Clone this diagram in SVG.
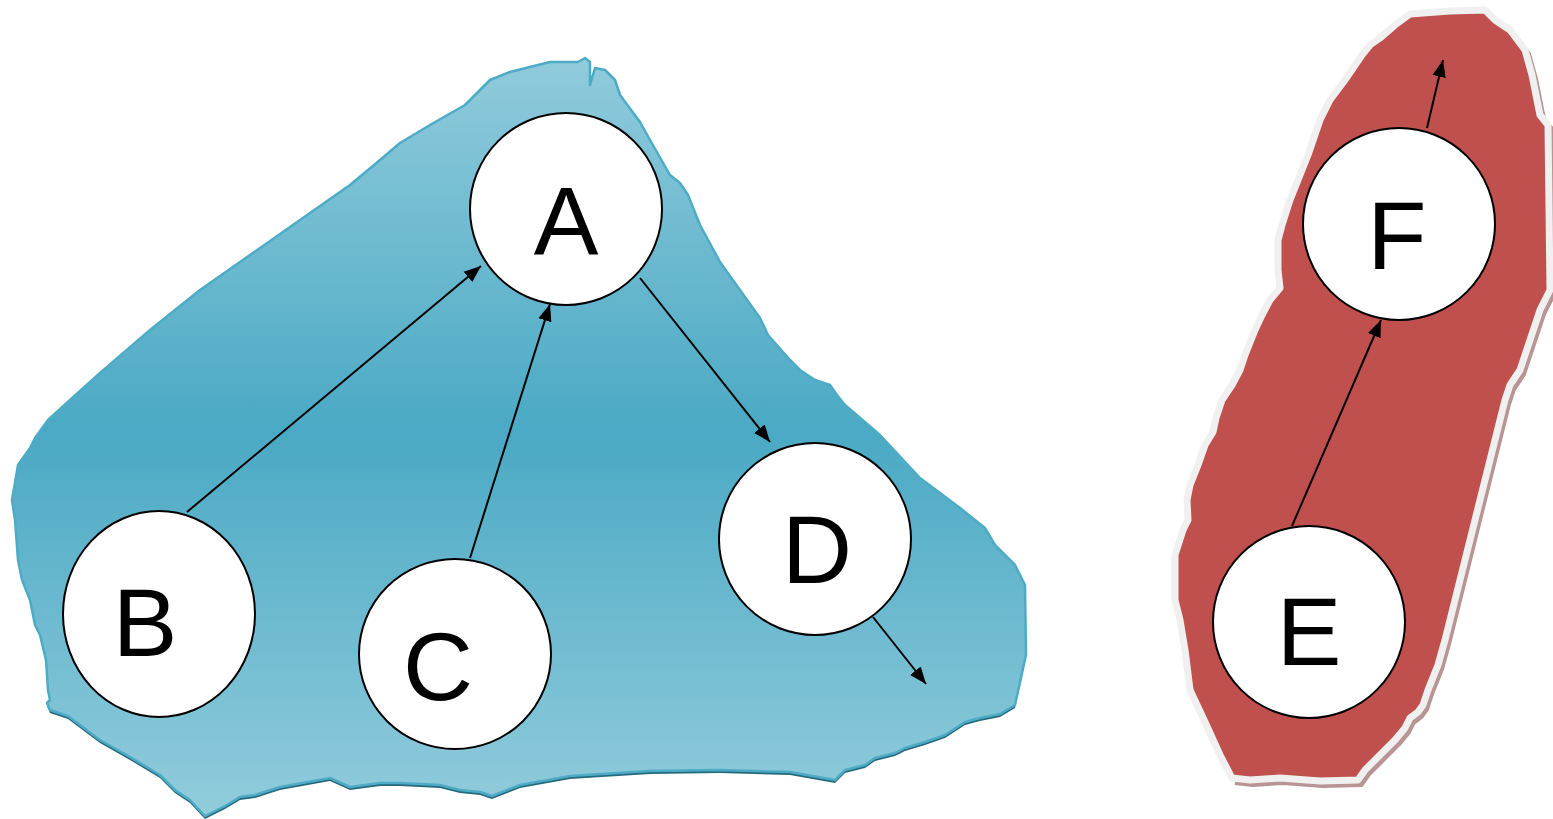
<svg xmlns="http://www.w3.org/2000/svg" width="1553" height="819" viewBox="0 0 1553 819">
  <defs>
    <linearGradient id="blueFill" gradientUnits="userSpaceOnUse" x1="0" y1="50" x2="0" y2="815">
      <stop offset="0" stop-color="#92ccdc"/>
      <stop offset="0.5" stop-color="#4aa9c4"/>
      <stop offset="1" stop-color="#92ccdc"/>
    </linearGradient>
    <marker id="arrow" viewBox="0 0 10 10" refX="10" refY="5" markerWidth="8.5" markerHeight="8.5" markerUnits="strokeWidth" orient="auto">
      <path d="M0,1 L10,5 L0,9 z" fill="#000"/>
    </marker>
  </defs>
  <style>
    .node ellipse { fill: #fff; stroke: #000; stroke-width: 2; }
    .node text { font-family: "Liberation Sans", Arial, sans-serif; font-size: 97px; fill: #000; text-anchor: middle; }
    .edge { fill: none; stroke: #000; stroke-width: 2; marker-end: url(#arrow); }
  </style>

  <!-- blue region -->
  <g id="region-blue">
    <path transform="translate(0,3)" fill="#24697c" d="M465,105 L490,80 L510,72 L550,62 L578,62 L585,58 L590,62 L590,85 L595,68 L605,70 L615,80 L620,95 L640,122 L650,140 L670,175 L680,183 L688,195 L700,225 L720,262 L760,318 L768,335 L790,360 L800,370 L815,380 L830,385 L837,395 L845,405 L880,435 L920,478 L960,508 L985,528 L995,545 L1015,565 L1025,585 L1026,655 L1015,705 L1000,714 L980,718 L965,722 L945,735 L925,742 L905,748 L895,753 L875,758 L865,765 L845,770 L835,780 L790,772 L720,770 L650,771 L570,776 L520,785 L492,796 L480,792 L460,790 L440,785 L400,783 L380,783 L350,787 L330,778 L280,787 L255,795 L240,797 L225,806 L205,816 L190,800 L175,790 L160,775 L130,757 L100,740 L80,725 L68,716 L50,710 L47,703 Z"/>
    <path fill="url(#blueFill)" stroke="#4eabc6" stroke-width="2.5" stroke-linejoin="round" d="M465,105 L490,80 L510,72 L550,62 L578,62 L585,58 L590,62 L590,85 L595,68 L605,70 L615,80 L620,95 L640,122 L650,140 L670,175 L680,183 L688,195 L700,225 L720,262 L760,318 L768,335 L790,360 L800,370 L815,380 L830,385 L837,395 L845,405 L880,435 L920,478 L960,508 L985,528 L995,545 L1015,565 L1025,585 L1026,655 L1015,705 L1000,714 L980,718 L965,722 L945,735 L925,742 L905,748 L895,753 L875,758 L865,765 L845,770 L835,780 L790,772 L720,770 L650,771 L570,776 L520,785 L492,796 L480,792 L460,790 L440,785 L400,783 L380,783 L350,787 L330,778 L280,787 L255,795 L240,797 L225,806 L205,816 L190,800 L175,790 L160,775 L130,757 L100,740 L80,725 L68,716 L50,710 L47,703 L50,700 L48,690 L46,660 L40,635 L35,625 L30,600 L22,580 L18,560 L15,520 L12,500 L18,465 L30,448 L35,438 L48,420 L70,400 L100,373 L150,330 L200,290 L250,255 L300,220 L350,185 L380,160 L400,143 L430,125 Z"/>
  </g>

  <!-- red region -->
  <g id="region-red">
    <path transform="translate(3,4)" fill="none" stroke="#b89494" stroke-width="6" stroke-linejoin="round" d="M1410,14 L1450,11 L1485,10 L1495,20 L1510,30 L1525,50 L1532,75 L1540,115 L1548,125 L1550,290 L1540,310 L1530,340 L1520,370 L1510,385 L1505,400 L1490,460 L1470,540 L1455,600 L1445,640 L1438,665 L1428,690 L1423,705 L1418,712 L1410,718 L1405,728 L1395,740 L1380,755 L1365,770 L1358,780 L1320,781 L1280,778 L1250,780 L1232,778"/>
    <path fill="#c0504d" stroke="#f0f0f0" stroke-width="7" stroke-linejoin="round" d="M1410,14 L1450,11 L1485,10 L1495,20 L1510,30 L1525,50 L1532,75 L1540,115 L1548,125 L1550,290 L1540,310 L1530,340 L1520,370 L1510,385 L1505,400 L1490,460 L1470,540 L1455,600 L1445,640 L1438,665 L1428,690 L1423,705 L1418,712 L1410,718 L1405,728 L1395,740 L1380,755 L1365,770 L1358,780 L1320,781 L1280,778 L1250,780 L1232,778 L1220,755 L1205,722 L1190,690 L1185,650 L1180,620 L1175,600 L1175,555 L1183,530 L1188,520 L1187,500 L1190,485 L1198,465 L1205,445 L1213,432 L1216,418 L1222,400 L1232,385 L1240,370 L1245,355 L1255,330 L1262,315 L1270,300 L1280,288 L1278,270 L1278,240 L1282,225 L1290,200 L1300,175 L1308,155 L1320,120 L1330,100 L1345,80 L1362,55 L1370,45 L1380,38 L1395,25 Z"/>
  </g>

  <!-- connectors -->
  <g id="connectors">
    <line class="edge" x1="187" y1="512" x2="481" y2="266"/>
    <line class="edge" x1="470" y1="558" x2="550" y2="304"/>
    <line class="edge" x1="640" y1="278" x2="770" y2="442"/>
    <line class="edge" x1="873" y1="617" x2="926" y2="684"/>
    <line class="edge" x1="1292" y1="526" x2="1381" y2="320"/>
    <line class="edge" x1="1427" y1="128" x2="1443" y2="60"/>
  </g>

  <!-- nodes -->
  <g id="node-A" class="node"><ellipse cx="566" cy="209" rx="96" ry="96"/><text x="566" y="254">A</text></g>
  <g id="node-B" class="node"><ellipse cx="159" cy="614" rx="96" ry="103"/><text x="145" y="656">B</text></g>
  <g id="node-C" class="node"><ellipse cx="455" cy="654" rx="96" ry="95"/><text x="438" y="700">C</text></g>
  <g id="node-D" class="node"><ellipse cx="815" cy="539" rx="96" ry="96"/><text x="817" y="583">D</text></g>
  <g id="node-E" class="node"><ellipse cx="1309" cy="622" rx="96" ry="96"/><text x="1309" y="665">E</text></g>
  <g id="node-F" class="node"><ellipse cx="1399" cy="224" rx="96" ry="96"/><text x="1397" y="269">F</text></g>
</svg>
